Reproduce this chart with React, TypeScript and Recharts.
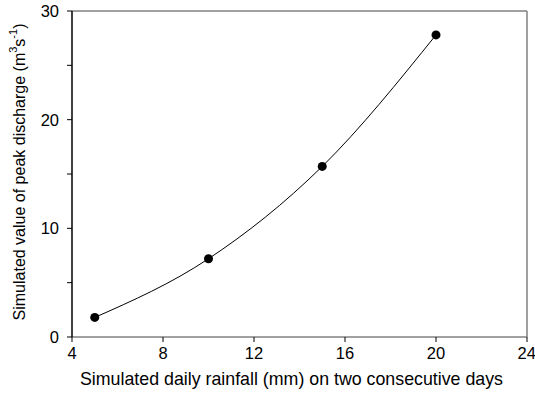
import { ComposedChart, Line, XAxis, YAxis, Label } from "recharts";

const rainfall = [5, 10, 15, 20];
const peakDischarge = [1.8, 7.2, 15.7, 27.8];
const xTicks = [4, 8, 12, 16, 20, 24];
const yTicks = [0, 5, 10, 15, 20, 25, 30];
const rightTicks = [5, 15, 25];

const data = rainfall.map((x, i) => ({ x, y: peakDischarge[i] }));

const FONT = "'Liberation Sans', Arial, sans-serif";

function YTitle(props: any) {
  const vb = props.viewBox || { x: 0, y: 0, width: 0, height: 0 };
  const cx = vb.x + 19;
  const cy = vb.y + vb.height / 2 - 2;
  return (
    <text
      x={cx}
      y={cy}
      transform={`rotate(-90 ${cx} ${cy})`}
      textAnchor="middle"
      dominantBaseline="central"
      fontFamily={FONT}
      fontSize={16}
      fill="#000"
    >
      Simulated value of peak discharge (m
      <tspan dy={-6} fontSize={11}>3</tspan>
      <tspan dy={6}>s</tspan>
      <tspan dy={-6} fontSize={11}>-1</tspan>
      <tspan dy={6}>)</tspan>
    </text>
  );
}

export default function App() {
  return (
    <div style={{ position: "absolute", left: 0, top: 0, background: "#fff" }}>
      <ComposedChart
        width={535}
        height={398}
        data={data}
        margin={{ top: 10, right: 8, left: 0, bottom: 0 }}
        style={{ fontFamily: FONT }}
      >
        <XAxis
          dataKey="x"
          type="number"
          domain={[4, 24]}
          ticks={xTicks}
          height={61}
          axisLine={{ stroke: "#808080", strokeWidth: 1.5 }}
          tickLine={{ stroke: "#000" }}
          tickSize={5}
          tick={{ fill: "#000", fontSize: 16.5, fontFamily: FONT }}
          tickMargin={5}
        >
          <Label
            value="Simulated daily rainfall (mm) on two consecutive days"
            position="insideBottom"
            offset={13}
            dx={-8}
            fill="#000"
            fontSize={17.8}
            fontFamily={FONT}
          />
        </XAxis>
        <XAxis
          xAxisId="top"
          dataKey="x"
          orientation="top"
          type="number"
          domain={[4, 24]}
          height={1}
          axisLine={{ stroke: "#808080", strokeWidth: 1.5 }}
          tick={false}
          tickLine={false}
        />
        <YAxis
          type="number"
          domain={[0, 30]}
          ticks={yTicks}
          width={72}
          axisLine={{ stroke: "#000", strokeWidth: 1.5 }}
          tickLine={{ stroke: "#000" }}
          tickSize={5}
          tickMargin={8}
          tick={{ fill: "#000", fontSize: 16.5, fontFamily: FONT }}
          tickFormatter={(v: number) => (v % 10 === 0 ? String(v) : "")}
          interval={0}
        >
          <Label content={<YTitle />} />
        </YAxis>
        <YAxis
          yAxisId="right"
          orientation="right"
          type="number"
          domain={[0, 30]}
          ticks={rightTicks}
          width={1}
          mirror
          axisLine={{ stroke: "#808080", strokeWidth: 1.5 }}
          tickLine={{ stroke: "#000" }}
          tickSize={5}
          tick={false}
          interval={0}
        />
        <Line
          dataKey="y"
          type="monotone"
          stroke="#000"
          strokeWidth={1}
          dot={{ r: 4.5, fill: "#000", stroke: "#000", strokeWidth: 0 }}
          isAnimationActive={false}
        />
        <Line
          xAxisId="top"
          yAxisId="right"
          dataKey="y"
          stroke="none"
          dot={false}
          activeDot={false}
          legendType="none"
          isAnimationActive={false}
        />
      </ComposedChart>
    </div>
  );
}
